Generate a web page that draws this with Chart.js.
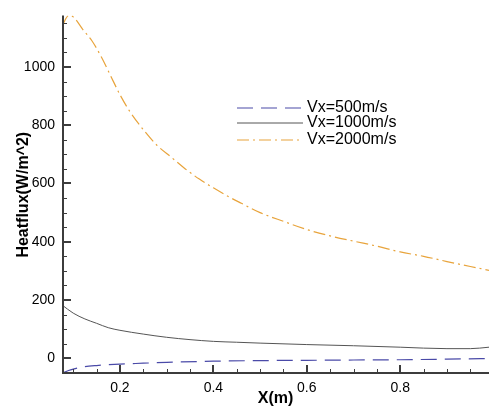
<!DOCTYPE html>
<html>
<head>
<meta charset="utf-8">
<script src="https://cdn.jsdelivr.net/npm/chart.js@4/dist/chart.umd.min.js"></script>
</head>
<body style="margin:0">
<canvas id="c" width="489" height="408"></canvas>
<script>
// values
const x500 = [0.076,0.09,0.10,0.12,0.15,0.20,0.25,0.30,0.40,0.50,0.60,0.70,0.80,0.90,0.99];
const v500 = [-52,-42,-37,-30,-25,-20,-17,-14,-10,-8,-7,-6,-5,-3,-1];

const x1000 = [0.076,0.10,0.125,0.15,0.175,0.20,0.25,0.30,0.35,0.40,0.45,0.50,0.60,0.70,0.80,0.90,0.95,0.99];
const v1000 = [183,155,135,120,105,96,83,72,64,58,55,52,47,43,38,33,33,38];

const x2000 = [0.076,0.09,0.10,0.12,0.14,0.16,0.18,0.20,0.22,0.25,0.28,0.31,0.34,0.37,0.40,0.43,0.46,0.50,0.55,0.60,0.65,0.70,0.75,0.80,0.85,0.90,0.95,0.99];
const v2000 = [1140,1176,1172,1130,1090,1035,970,905,850,785,730,690,650,615,585,557,532,500,470,442,420,402,385,365,350,332,315,302];

const seriesNames = ["Vx=500m/s","Vx=1000m/s","Vx=2000m/s"];
const xTicks = [0.2,0.4,0.6,0.8];
const yTicks = [0,200,400,600,800,1000];

const pts = (xs, ys) => xs.map((x,i)=>({x:x, y:ys[i]}));

// axis lines, inward ticks and legend drawn by hand
const decor = {
  id:"decor",
  afterDraw(chart){
    const ctx = chart.ctx;
    const xs = chart.scales.x, ys = chart.scales.y;
    const a = chart.chartArea;
    ctx.save();
    ctx.setLineDash([]);
    ctx.strokeStyle = "#3c3c3c";
    ctx.lineWidth = 2;
    ctx.beginPath();
    ctx.moveTo(a.left + 1, a.top);
    ctx.lineTo(a.left + 1, a.bottom - 1);
    ctx.lineTo(a.right, a.bottom - 1);
    ctx.stroke();
    for(let v=0.1; v<=xs.max; v+=0.05){
      const vv = Math.round(v*100)/100;
      const major = xTicks.includes(vv);
      const px = Math.round(xs.getPixelForValue(vv)) + (major ? 0 : 0.5);
      ctx.lineWidth = major ? 2 : 1;
      ctx.beginPath();
      ctx.moveTo(px, a.bottom - 1);
      ctx.lineTo(px, a.bottom - (major ? 9 : 5));
      ctx.stroke();
    }
    for(let v=-50; v<=ys.max; v+=50){
      const major = yTicks.includes(v);
      const py = Math.round(ys.getPixelForValue(v)) + (major ? 0 : 0.5);
      ctx.lineWidth = major ? 2 : 1;
      ctx.beginPath();
      ctx.moveTo(a.left + 1, py);
      ctx.lineTo(a.left + (major ? 9 : 5), py);
      ctx.stroke();
    }
    // legend
    const rowsY = [108, 123, 140];
    ctx.font = "16px 'Liberation Sans', Arial, sans-serif";
    ctx.textBaseline = "middle";
    chart.data.datasets.forEach((ds,i)=>{
      ctx.strokeStyle = ds.borderColor;
      ctx.lineWidth = ds.borderWidth;
      ctx.setLineDash(ds.borderDash || []);
      ctx.beginPath();
      ctx.moveTo(237, rowsY[i]);
      ctx.lineTo(303, rowsY[i]);
      ctx.stroke();
      ctx.setLineDash([]);
      ctx.fillStyle = "#000";
      ctx.fillText(ds.label, 307, rowsY[i]);
    });
    ctx.restore();
  }
};

new Chart(document.getElementById("c"), {
  type:"line",
  data:{
    datasets:[
      {label:seriesNames[0], data:pts(x500,v500), borderColor:"#4a4aa8", borderWidth:1.2, borderDash:[16,8], pointRadius:0, cubicInterpolationMode:"monotone", fill:false},
      {label:seriesNames[1], data:pts(x1000,v1000), borderColor:"#555", borderWidth:1, pointRadius:0, cubicInterpolationMode:"monotone", fill:false},
      {label:seriesNames[2], data:pts(x2000,v2000), borderColor:"#e8a43c", borderWidth:1.2, borderDash:[12,4,2,4], pointRadius:0, cubicInterpolationMode:"monotone", fill:false}
    ]
  },
  options:{
    responsive:false,
    animation:false,
    layout:{padding:{top:10,right:0,left:0,bottom:0}},
    plugins:{legend:{display:false}, tooltip:{enabled:false}},
    scales:{
      x:{
        type:"linear", min:0.076, max:0.99,
        afterBuildTicks:s=>{ s.ticks = xTicks.map(v=>({value:v})); },
        afterFit:s=>{ s.height = 34; },
        grid:{display:false, drawTicks:false},
        border:{display:false},
        ticks:{color:"#000", padding:6, maxRotation:0, callback:v=>String(v), font:{family:"'Liberation Sans', Arial", size:14}},
        title:{display:true, text:"X(m)", color:"#000", padding:{top:-4,bottom:0}, font:{family:"'Liberation Sans', Arial", size:16, weight:"bold"}}
      },
      y:{
        type:"linear", min:-54, max:1177,
        afterBuildTicks:s=>{ s.ticks = yTicks.map(v=>({value:v})); },
        afterFit:s=>{ s.width = 62; },
        grid:{display:false, drawTicks:false},
        border:{display:false},
        ticks:{color:"#000", padding:7, callback:v=>String(v), font:{family:"'Liberation Sans', Arial", size:14}},
        title:{display:true, text:"Heatflux(W/m^2)", color:"#000", padding:{top:14,bottom:0}, font:{family:"'Liberation Sans', Arial", size:16, weight:"bold"}}
      }
    }
  },
  plugins:[decor]
});
</script>
</body>
</html>
